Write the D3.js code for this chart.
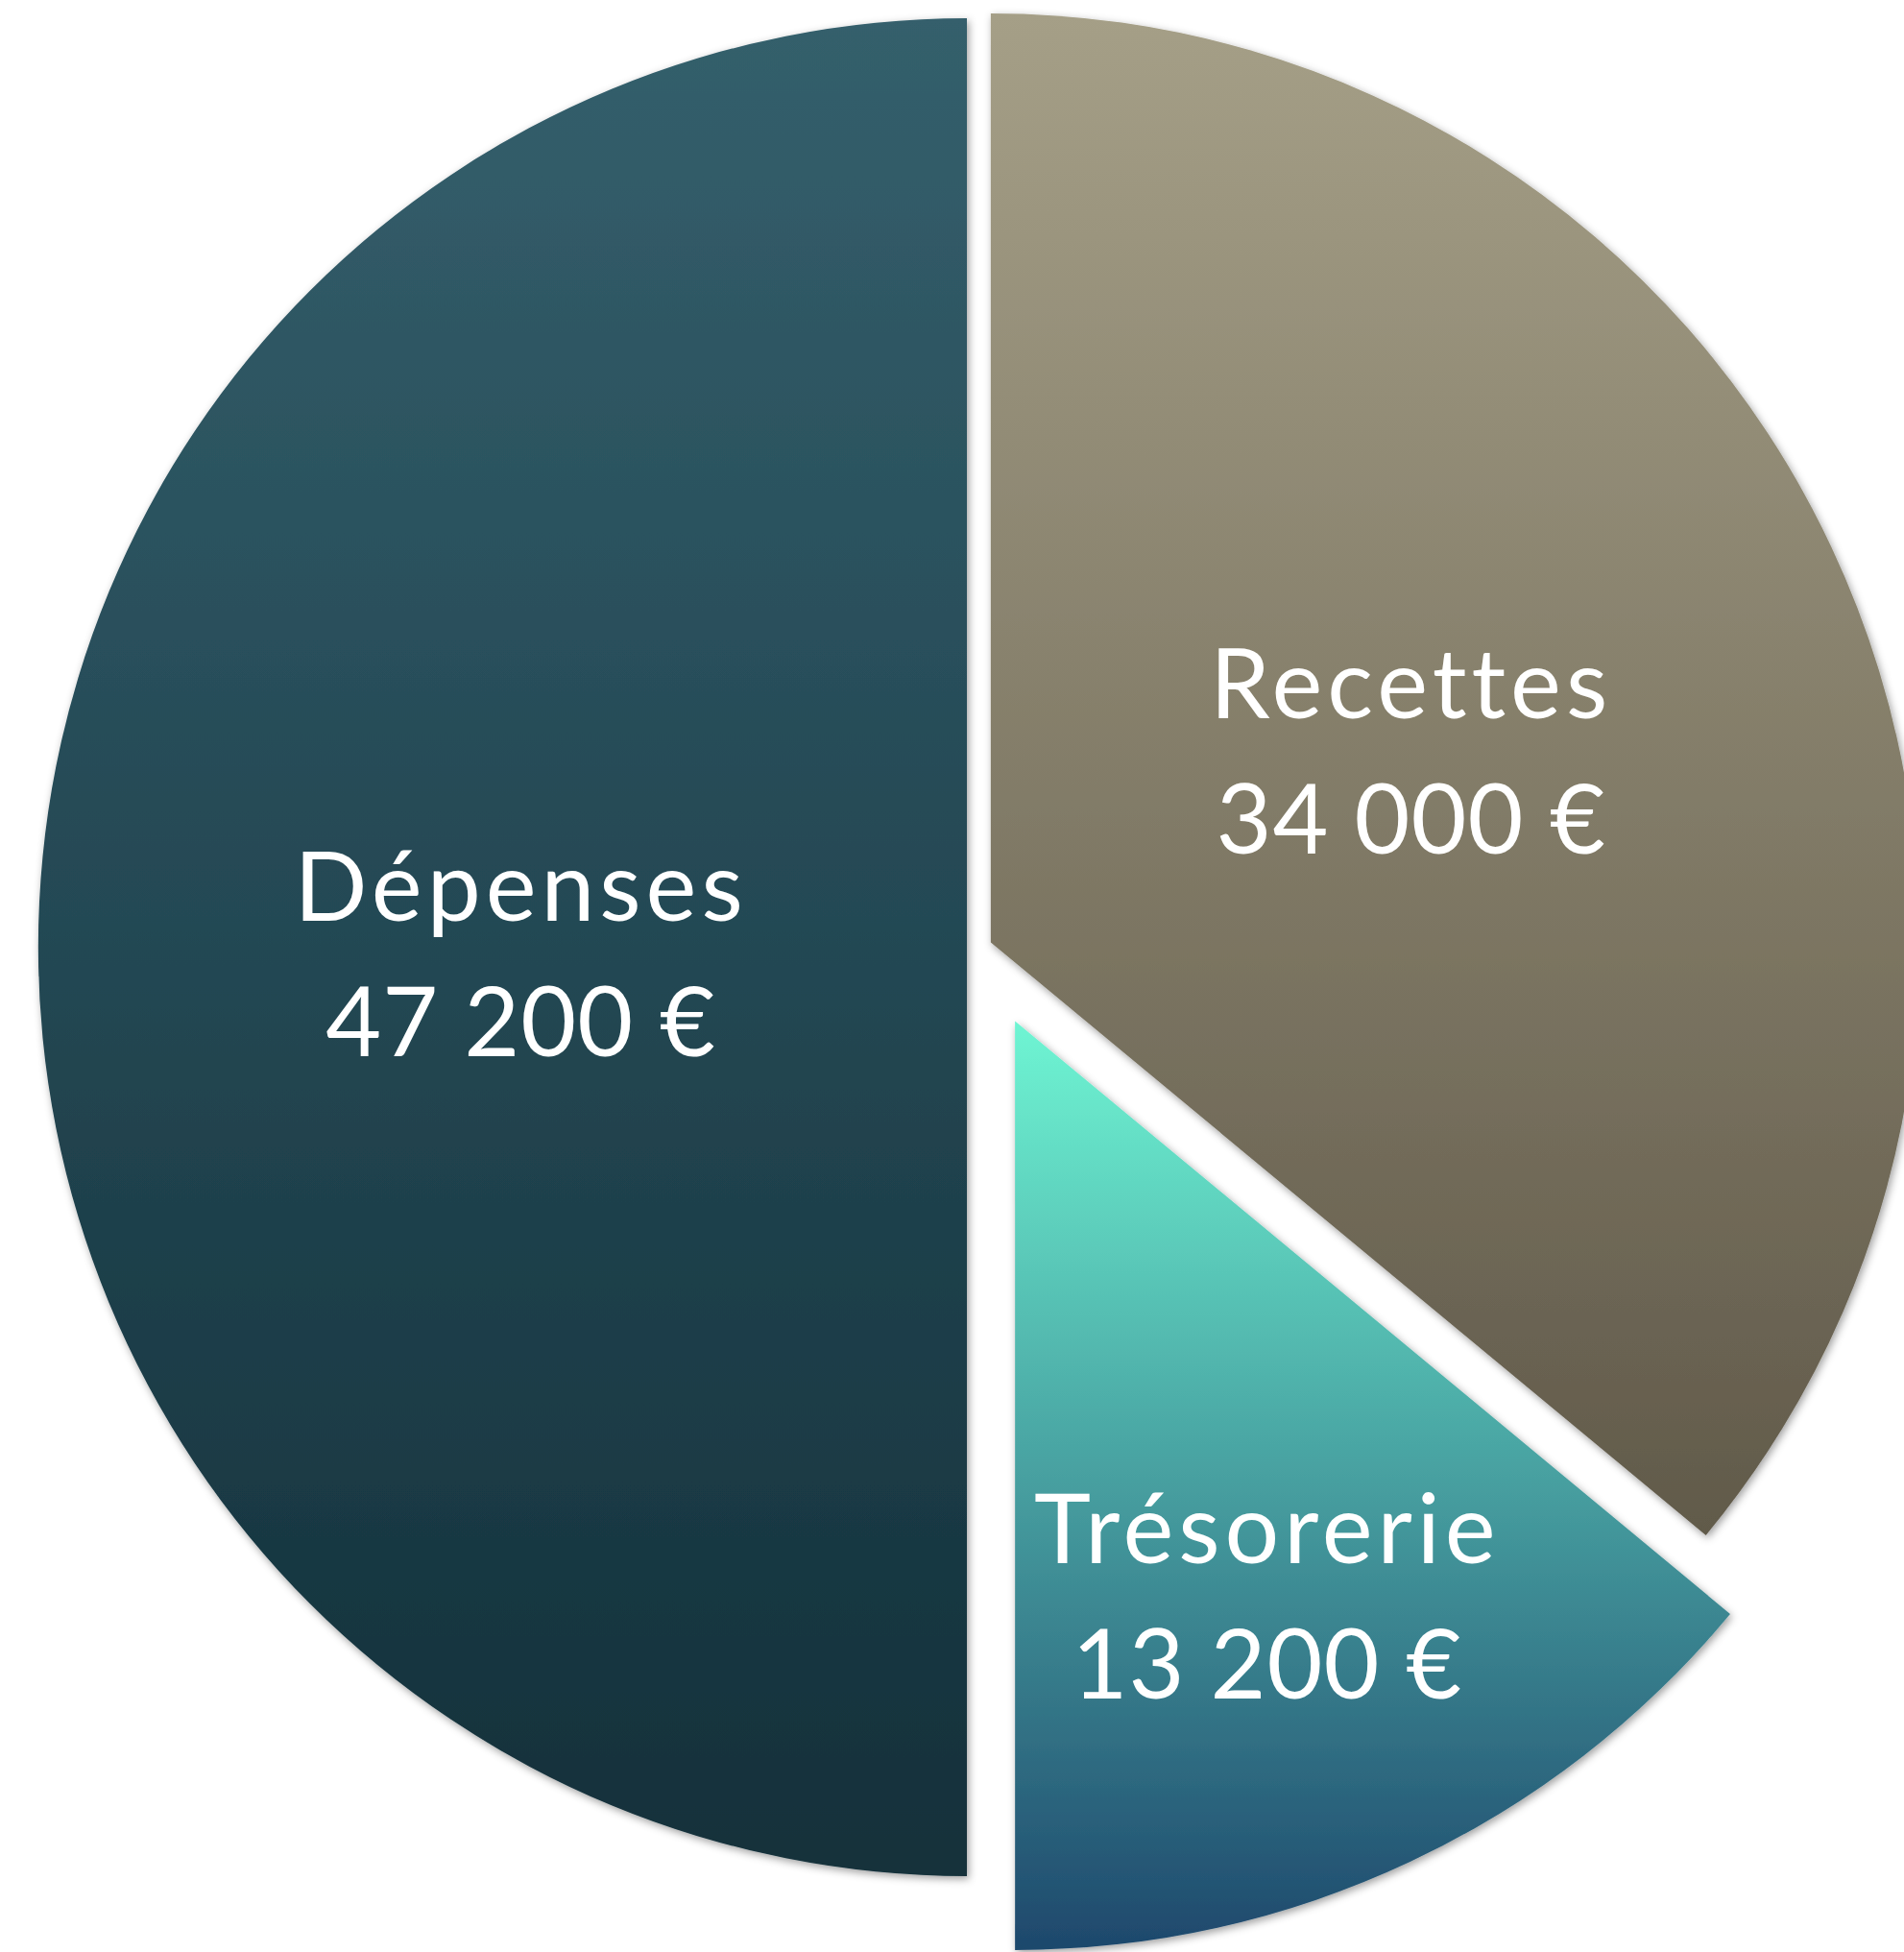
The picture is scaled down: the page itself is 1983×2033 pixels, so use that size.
<!DOCTYPE html>
<html>
<head>
<meta charset="utf-8">
<script src="https://cdn.jsdelivr.net/npm/d3@7"></script>
<style>
  html, body { margin: 0; padding: 0; background: #ffffff; overflow: hidden; }
  svg { display: block; }
</style>
</head>
<body>
<svg id="chart" width="1983" height="2033"></svg>
<script>
// ---- data ----
const categories = ["Recettes", "Trésorerie", "Dépenses"];
const values = [34000, 13200, 47200];

// ---- styling (kept separate from data) ----
const gradTop = ["#a59f87", "#6ff5d3", "#345f6c"];
const gradBottom = ["#615a4a", "#1e486c", "#13303a"];
const explode = [12, 85, 14];
const labelRadiusFactor = [0.50, 0.67, 0.48];
const labelAngleShift = [0, 0.022, 0];

const W = 1983, H = 2033;
const cx = 1021, cy = 986.5, R = 967.5;

const fr = d3.formatLocale({
  decimal: ",", thousands: "\u202f", grouping: [3], currency: ["", "\u00a0€"]
});
const fmt = fr.format("$,.0f");

const svg = d3.select("#chart");
const defs = svg.append("defs");

const filter = defs.append("filter").attr("id", "shadow")
  .attr("x", "-5%").attr("y", "-5%").attr("width", "110%").attr("height", "110%");
filter.append("feDropShadow")
  .attr("dx", 2).attr("dy", 3).attr("stdDeviation", 4)
  .attr("flood-color", "#000").attr("flood-opacity", 0.38);

categories.forEach((c, i) => {
  const g = defs.append("linearGradient").attr("id", "grad" + i)
    .attr("x1", 0).attr("y1", 0).attr("x2", 0).attr("y2", 1);
  g.append("stop").attr("offset", "0%").attr("stop-color", gradTop[i]);
  g.append("stop").attr("offset", "100%").attr("stop-color", gradBottom[i]);
});

const pie = d3.pie().sort(null).value(d => d.value);
const arcs = pie(categories.map((c, i) => ({ name: c, value: values[i], i })));
const arc = d3.arc().innerRadius(0).outerRadius(R);

const root = svg.append("g").attr("transform", `translate(${cx},${cy})`);

const slice = root.selectAll("g.slice").data(arcs).join("g")
  .attr("class", "slice")
  .attr("transform", d => {
    const mid = (d.startAngle + d.endAngle) / 2;
    const e = explode[d.data.i];
    return `translate(${Math.sin(mid) * e},${-Math.cos(mid) * e})`;
  });

slice.append("path")
  .attr("d", arc)
  .attr("fill", d => `url(#grad${d.data.i})`)
  .attr("filter", "url(#shadow)");

const fontSize = 100;
slice.each(function(d) {
  const mid = (d.startAngle + d.endAngle) / 2 + labelAngleShift[d.data.i];
  const lr = R * labelRadiusFactor[d.data.i];
  const x = Math.sin(mid) * lr, y = -Math.cos(mid) * lr;
  const t = d3.select(this).append("text")
    .attr("text-anchor", "middle")
    .attr("fill", "#ffffff")
    .attr("font-family", "Lato, 'Noto Sans', sans-serif")
    .attr("font-size", fontSize)
    .attr("transform", `translate(${x},${y})`);
  t.append("tspan").attr("x", 0).attr("y", -28)
    .attr("letter-spacing", 5).text(d.data.name);
  t.append("tspan").attr("x", 0).attr("y", 113)
    .attr("letter-spacing", 1).text(fmt(d.data.value));
});
</script>
</body>
</html>
